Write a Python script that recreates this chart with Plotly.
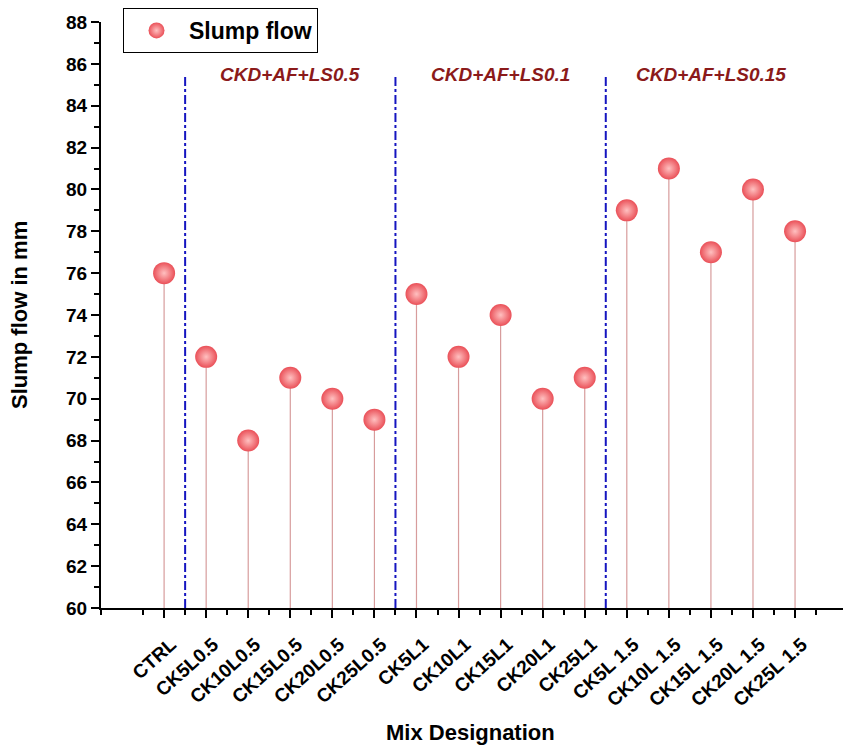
import plotly.graph_objects as go

categories = ["CTRL", "CK5L0.5", "CK10L0.5", "CK15L0.5", "CK20L0.5", "CK25L0.5",
              "CK5L1", "CK10L1", "CK15L1", "CK20L1", "CK25L1",
              "CK5L 1.5", "CK10L 1.5", "CK15L 1.5", "CK20L 1.5", "CK25L 1.5"]
slump_flow = [76, 72, 68, 71, 70, 69, 75, 72, 74, 70, 71, 79, 81, 77, 80, 78]
group_labels = ["CKD+AF+LS0.5", "CKD+AF+LS0.1", "CKD+AF+LS0.15"]
group_sizes = [5, 5, 5]
y_min, y_max = 60, 88

x_idx = list(range(len(categories)))
FONT = "Liberation Sans, Arial, sans-serif"

# page has an 8px body margin; the figure is sized to fit inside it
W, H = 843, 740
L, T, R, B = 93, 14, 0, 140
PW, PH = W - L - R, H - T - B

fig = go.Figure()
fig.add_trace(go.Scatter(
    x=x_idx, y=slump_flow, mode="markers", name="Slump flow",
    marker=dict(size=22, color="#ea5058",
                gradient=dict(type="radial", color="#ffc0c0"),
                line=dict(width=0)),
    error_y=dict(type="data", symmetric=False, array=[0] * len(slump_flow),
                 arrayminus=[v - y_min for v in slump_flow],
                 color="#d79c9c", thickness=1.2, width=0),
))

# group dividers and labels
start = 1
for lab, n in zip(group_labels, group_sizes):
    fig.add_shape(type="line", xref="x", yref="y", x0=start - 0.5, x1=start - 0.5,
                  y0=y_min, y1=85.4, line=dict(color="#1515c0", width=2, dash="dashdot"))
    fig.add_annotation(x=start + (n - 1) / 2, y=85.5, text="<b><i>" + lab + "</i></b>",
                       showarrow=False, xanchor="center", yanchor="middle",
                       font=dict(family=FONT, size=19, color="#8b1a1a"))
    start += n

# axis titles
fig.add_annotation(xref="paper", yref="paper", x=(470 - 101) / PW, y=-(732 - 608) / PH,
                   text="<b>Mix Designation</b>", showarrow=False,
                   xanchor="center", yanchor="middle",
                   font=dict(family=FONT, size=22, color="black"))
fig.add_annotation(xref="paper", yref="paper", x=-(101 - 19) / PW, y=0.5,
                   text="<b>Slump flow in mm</b>", showarrow=False, textangle=-90,
                   xanchor="center", yanchor="middle",
                   font=dict(family=FONT, size=22, color="black"))

fig.update_layout(
    width=W, height=H,
    margin=dict(l=L, r=R, t=T, b=B, autoexpand=False),
    paper_bgcolor="white", plot_bgcolor="white",
    showlegend=True,
    legend=dict(xref="container", yref="container", x=(123 - 8) / W, y=1.0,
                xanchor="left", yanchor="top",
                bordercolor="black", borderwidth=1, bgcolor="white",
                font=dict(family=FONT, size=23, color="black", weight="bold"),
                itemsizing="trace", itemwidth=55, tracegroupgap=0),
    xaxis=dict(
        range=[-1.5, 16.33], tickmode="array", tickvals=x_idx, ticktext=categories,
        tickangle=-42, ticks="outside", ticklen=8, tickwidth=2, tickcolor="black",
        showline=True, linecolor="black", linewidth=2, showgrid=False, zeroline=False,
        automargin=False, ticklabelstandoff=8, ticklabelshift=7,
        tickfont=dict(family=FONT, size=19, color="black", weight="bold"),
        minor=dict(tickvals=[i + 0.5 for i in range(-2, 17)], ticks="outside",
                   ticklen=5, tickwidth=2, tickcolor="black"),
    ),
    yaxis=dict(
        range=[y_min, y_max], dtick=2, tick0=60, ticks="outside", ticklen=8,
        tickwidth=2, tickcolor="black", showline=True, linecolor="black", linewidth=2,
        showgrid=False, zeroline=False, automargin=False,
        tickfont=dict(family=FONT, size=19, color="black", weight="bold"),
        minor=dict(dtick=1, ticks="outside", ticklen=5, tickwidth=2, tickcolor="black",
                   showgrid=False),
    ),
)

fig.write_html("out.html")
